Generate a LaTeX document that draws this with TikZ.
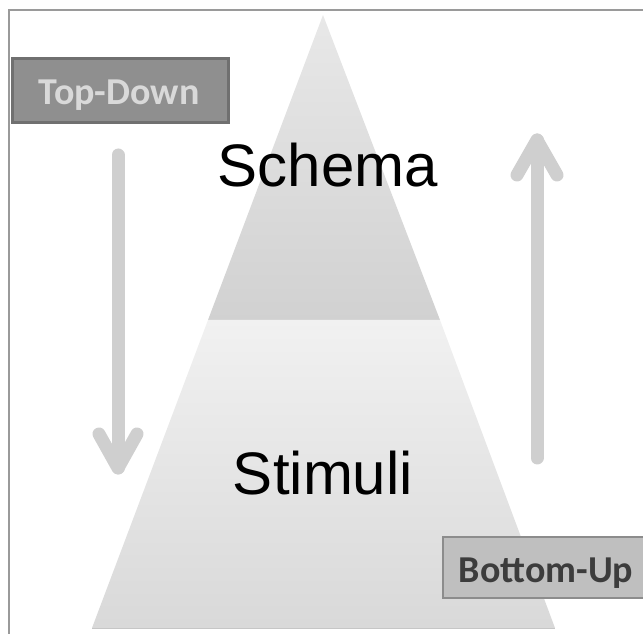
\documentclass[tikz,border=0pt]{standalone}
\usepackage{fontspec}
\setmainfont{Liberation Sans}
\newfontfamily\calfont{Carlito}
\definecolor{framec}{HTML}{9A9A9A}
\definecolor{arrowc}{HTML}{CFCFCF}
\definecolor{tdfill}{HTML}{8F8F8F}
\definecolor{tdline}{HTML}{707070}
\definecolor{tdtext}{HTML}{D9D9D9}
\definecolor{bufill}{HTML}{BFBFBF}
\definecolor{buline}{HTML}{8C8C8C}
\definecolor{butext}{HTML}{3C3C3C}
\tikzset{
  bigarrow/.style={draw=arrowc, line width=13pt, line cap=round, line join=round},
  bigtext/.style={font=\fontsize{60}{62}\selectfont, text=black, anchor=base, inner sep=0pt},
  labeltext/.style={font=\calfont\bfseries\fontsize{38}{40}\selectfont, anchor=base, inner sep=0pt},
}
\begin{document}
\begin{tikzpicture}[x=1pt,y=1pt]
\useasboundingbox (0,0) rectangle (643,634);
% frame
\draw[framec, line width=1.5pt] (9,0) -- (9,624) -- (643,624);
% schema triangle
\shade[top color=gray!18, bottom color=gray!36] (323,619) -- (440,314) -- (208,314) -- cycle;
% stimuli trapezoid
\shade[top color=gray!11, bottom color=gray!30] (208,314) -- (440,314) -- (555,6) -- (92,6) -- cycle;
\draw[gray!45, line width=1pt] (92,5.5) -- (555,5.5);
% labels in pyramid
\node[bigtext] (schema) at (328,447) {Schema};
\node[bigtext] (stimuli) at (323,139) {Stimuli};
% down arrow
\coordinate (dtop) at (118,479);
\coordinate (dtip) at (118,166);
\draw[bigarrow] (dtop) -- (dtip);
\draw[bigarrow] (99,200) -- (dtip) -- (137,200);
% up arrow
\coordinate (ubot) at (537,176);
\coordinate (utip) at (537,494);
\draw[bigarrow] (ubot) -- (utip);
\draw[bigarrow] (517,459) -- (utip) -- (557,459);
% Top-Down box
\draw[fill=tdfill, draw=tdline, line width=3pt] (12,511) rectangle (228,575);
\node[labeltext, text=tdtext] (td) at (119,529) {Top-Down};
% Bottom-Up box
\draw[fill=bufill, draw=buline, line width=1.5pt] (443,36) rectangle (660,97);
\node[labeltext, text=butext] (bu) at (546,51) {Bottom-Up};
\end{tikzpicture}
\end{document}
